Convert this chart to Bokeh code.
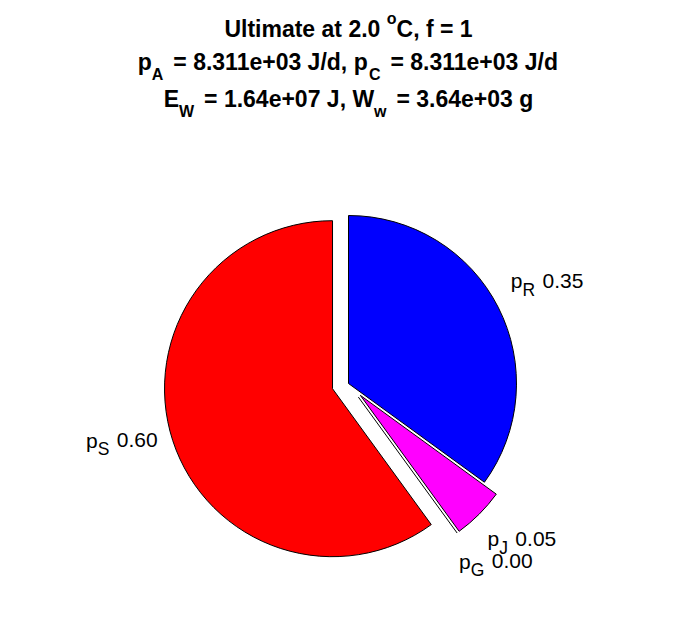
import math
from bokeh.plotting import figure
from bokeh.models import Range1d, ColumnDataSource
from bokeh.embed import file_html
from bokeh.resources import INLINE
from bokeh.core.properties import value

# ---------------- data ----------------
slice_names = ["S", "G", "J", "R"]          # drawn counter-clockwise from the top
slice_fracs = [0.60, 0.00, 0.05, 0.35]
slice_colors = ["#ff0000", "#00ff00", "#ff00ff", "#0000ff"]
slice_explode = [1, 1, 1, 0]

temp_C = 2.0
f_val = 1
p_A = 8.311e3
p_C = 8.311e3
E_W = 1.64e7
W_w = 3.64e3

# ---------------- layout / style ----------------
W, H = 680, 602
FONT = "Liberation Sans"
CX, CY = 348.0, -383.0      # pie centre (y axis points up, page y negated)
R = 168.0
EXPLODE = 0.1 * R
LABEL_R = 1.2 * R
LABEL_PUSH = 0.113 * R
TEXT_DY = 5.0

T_SIZE, T_SCRIPT = 23.0, 16.0
T_DROP, T_RISE, T_GAP = 12.5, 10.0, 3.5
L_SIZE, L_SCRIPT = 21.0, 17.5
L_DROP, L_GAP = 9.0, 1.5

REG = {' ': 278, '.': 278, ',': 278, 'p': 556, 'S': 667, 'R': 722, 'J': 500, 'G': 778,
       '0': 556, '1': 556, '2': 556, '3': 556, '4': 556, '5': 556, '6': 556, '7': 556,
       '8': 556, '9': 556}
BOLD = {' ': 278, '.': 278, ',': 278, '+': 584, '=': 584, '/': 278, 'e': 556, 'd': 611,
        'p': 611, 'g': 611, 'J': 556, 'W': 944, 'w': 778, 'A': 722, 'C': 722, 'E': 667,
        'U': 722, 'l': 278, 't': 333, 'i': 278, 'm': 889, 'a': 556, 'f': 333, 'o': 611}


def text_width(s, size, bold):
    table = BOLD if bold else REG
    return sum(table.get(ch, 556) for ch in s) * size / 1000.0


p = figure(width=W, height=H, output_backend="svg", toolbar_location=None,
           x_range=Range1d(0, W), y_range=Range1d(-H, 0),
           x_axis_type=None, y_axis_type=None, min_border=0)
p.grid.visible = False
p.outline_line_color = None
p.background_fill_color = "white"
p.border_fill_color = "white"


def draw_runs(runs, xc, base_y, size, script, bold, drop, rise, gap):
    widths = []
    for txt, kind in runs:
        sz = size if kind == 0 else script
        w = text_width(txt, sz, bold)
        if kind < 0:
            w += gap
        widths.append(w)
    x = xc - sum(widths) / 2.0
    for (txt, kind), w in zip(runs, widths):
        sz = size if kind == 0 else script
        stripped = txt.lstrip(' ')
        lead = text_width(txt[:len(txt) - len(stripped)], sz, bold)
        y = base_y - drop if kind < 0 else (base_y + rise if kind > 0 else base_y)
        p.text(x=[x + lead], y=[y + TEXT_DY], text=[stripped.rstrip(' ')],
               text_font=value(FONT), text_font_size=f"{sz}px",
               text_font_style="bold" if bold else "normal",
               text_align="left", text_baseline="alphabetic", text_color="black")
        x += w


# ---------------- pie ----------------
cum = 0.0
xs, ys, a0s, a1s, cols = [], [], [], [], []
zero_segs = []
labels = []
for name, frac, col, ex in zip(slice_names, slice_fracs, slice_colors, slice_explode):
    a0 = math.pi / 2 + 2 * math.pi * cum
    a1 = a0 + 2 * math.pi * frac
    mid = 0.5 * (a0 + a1)
    dx, dy = math.cos(mid), math.sin(mid)
    sx = CX + EXPLODE * ex * dx
    sy = CY + EXPLODE * ex * dy
    if frac > 0:
        xs.append(sx); ys.append(sy); a0s.append(a0); a1s.append(a1); cols.append(col)
    else:
        zero_segs.append((sx, sy, sx + R * math.cos(a0), sy + R * math.sin(a0)))
    lx = sx + LABEL_R * dx + math.copysign(LABEL_PUSH, dx)
    lift = 13.5 if dy > -0.5 else 1.5     # labels below the pie sit a little lower
    ly = sy + LABEL_R * dy + lift - 0.358 * L_SIZE
    labels.append((name, frac, lx, ly))
    cum += frac

src = ColumnDataSource(dict(x=xs, y=ys, start=a0s, end=a1s, color=cols))
p.wedge(x="x", y="y", radius=R, start_angle="start", end_angle="end",
        direction="anticlock", fill_color="color", line_color="black",
        line_width=1, source=src)
for (x0, y0, x1, y1) in zero_segs:
    p.segment(x0=[x0], y0=[y0], x1=[x1], y1=[y1], line_color="black", line_width=1)

for name, frac, lx, ly in labels:
    draw_runs([("p", 0), (name, -1), (f" {frac:.2f}", 0)], lx, ly,
              L_SIZE, L_SCRIPT, False, L_DROP, 0, L_GAP)

# ---------------- title ----------------
line1 = [(f"Ultimate at {temp_C:.1f} ", 0), ("o", 1), (f"C, f = {f_val}", 0)]
line2 = [("p", 0), ("A", -1), (f" = {p_A:.3e} J/d, p", 0), ("C", -1), (f" = {p_C:.3e} J/d", 0)]
line3 = [("E", 0), ("W", -1), (f" = {E_W:.2e} J, W", 0), ("w", -1), (f" = {W_w:.2e} g", 0)]
for runs, base in zip([line1, line2, line3], [-33.0, -66.5, -103.0]):
    draw_runs(runs, CX, base, T_SIZE, T_SCRIPT, True, T_DROP, T_RISE, T_GAP)

open("out.html", "w").write(file_html(p, INLINE))
